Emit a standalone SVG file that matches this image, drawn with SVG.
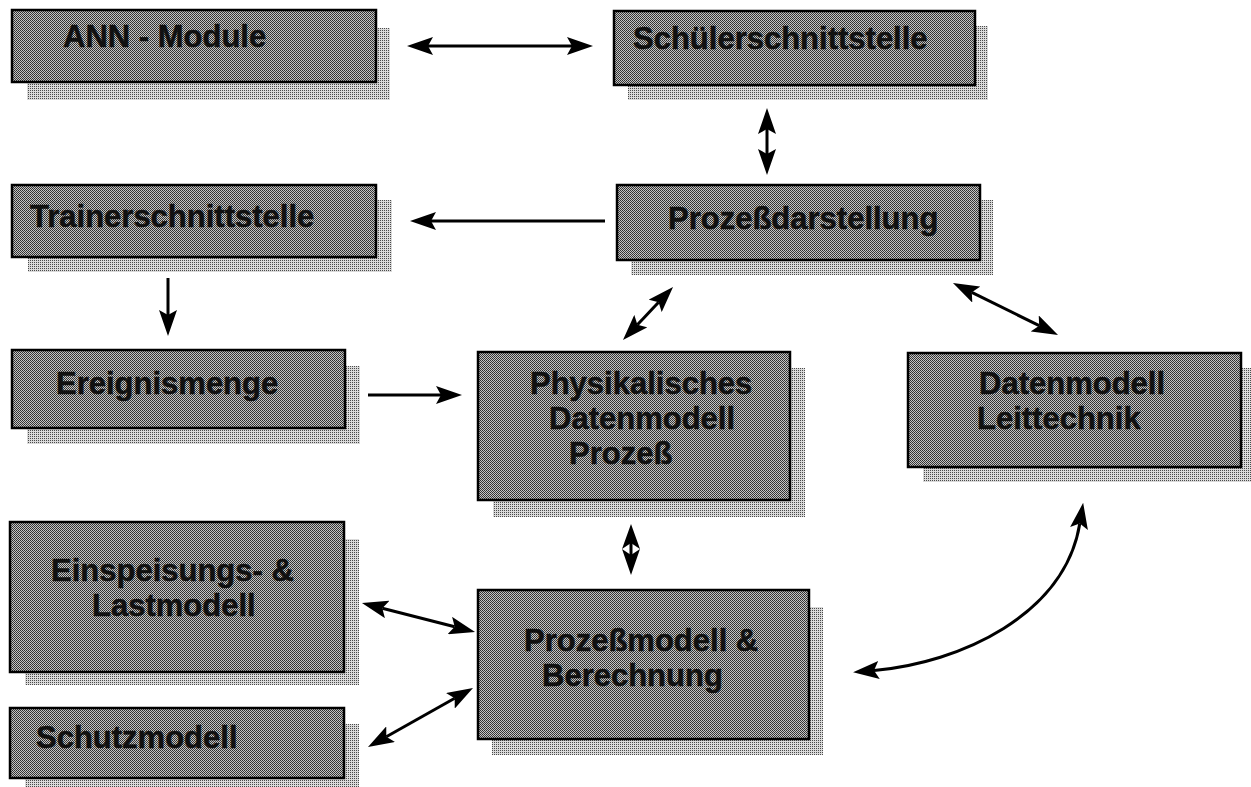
<svg xmlns="http://www.w3.org/2000/svg" width="1251" height="787" viewBox="0 0 1251 787">
  <defs>
    <!-- halftone fill of the boxes -->
    <pattern id="boxTone" width="2" height="2" patternUnits="userSpaceOnUse">
      <rect width="2" height="2" fill="#c4c4c4"/>
      <rect x="0" y="0" width="1" height="1" fill="#2e2e2e"/>
      <rect x="1" y="1" width="1" height="1" fill="#3c3c3c"/>
    </pattern>
    <!-- lighter stipple of the drop shadows -->
    <pattern id="shadowTone" width="2" height="2" patternUnits="userSpaceOnUse">
      <rect width="2" height="2" fill="#dadada"/>
      <rect x="0" y="0" width="1" height="1" fill="#4a4a4a"/>
    </pattern>
    <!-- barbed arrowhead, reference point at the notch -->
    <marker id="head" viewBox="0 0 26 18" refX="5" refY="9" markerWidth="26" markerHeight="18" markerUnits="userSpaceOnUse" orient="auto-start-reverse">
      <path d="M0,0 L26,9 L0,18 L5,9 Z" fill="#000"/>
    </marker>
    <style>
      .shadow { fill: url(#shadowTone); }
      .box { fill: url(#boxTone); stroke: #000; stroke-width: 2.5; }
      .label { font-family: "Liberation Sans", Arial, sans-serif; font-weight: bold; font-size: 31px; fill: #111; stroke: #111; stroke-width: 0.5; }
      .conn { fill: none; stroke: #000; stroke-width: 3; }
      .both { marker-start: url(#head); marker-end: url(#head); }
      .one { marker-end: url(#head); }
    </style>
  </defs>

  <rect width="1251" height="787" fill="#fff"/>

  <g id="ann-module">
    <rect class="shadow" x="27" y="28" width="363" height="72"/>
    <rect class="box" x="12" y="10" width="364" height="72"/>
    <text class="label" x="63" y="47">ANN - Module</text>
  </g>

  <g id="schuelerschnittstelle">
    <rect class="shadow" x="628" y="26" width="360" height="74"/>
    <rect class="box" x="614" y="11" width="361" height="74"/>
    <text class="label" x="633" y="49">Schülerschnittstelle</text>
  </g>

  <g id="trainerschnittstelle">
    <rect class="shadow" x="28" y="200" width="364" height="72"/>
    <rect class="box" x="12" y="185" width="364" height="72"/>
    <text class="label" x="30" y="227">Trainerschnittstelle</text>
  </g>

  <g id="prozessdarstellung">
    <rect class="shadow" x="631" y="200" width="362" height="75"/>
    <rect class="box" x="617" y="185" width="363" height="75"/>
    <text class="label" x="668" y="229">Prozeßdarstellung</text>
  </g>

  <g id="ereignismenge">
    <rect class="shadow" x="27" y="366" width="333" height="78"/>
    <rect class="box" x="12" y="350" width="333" height="78"/>
    <text class="label" x="56" y="394">Ereignismenge</text>
  </g>

  <g id="physikalisches-datenmodell">
    <rect class="shadow" x="493" y="368" width="312" height="149"/>
    <rect class="box" x="478" y="352" width="312" height="148"/>
    <text class="label" x="530" y="394">Physikalisches</text>
    <text class="label" x="549" y="429">Datenmodell</text>
    <text class="label" x="569" y="464">Prozeß</text>
  </g>

  <g id="datenmodell-leittechnik">
    <rect class="shadow" x="923" y="368" width="340" height="114"/>
    <rect class="box" x="908" y="353" width="333" height="114"/>
    <text class="label" x="979" y="394">Datenmodell</text>
    <text class="label" x="977" y="429">Leittechnik</text>
  </g>

  <g id="einspeisungs-lastmodell">
    <rect class="shadow" x="25" y="539" width="334" height="146"/>
    <rect class="box" x="10" y="522" width="334" height="150"/>
    <text class="label" x="51" y="581">Einspeisungs- &amp;</text>
    <text class="label" x="92" y="616">Lastmodell</text>
  </g>

  <g id="schutzmodell">
    <rect class="shadow" x="25" y="724" width="334" height="70"/>
    <rect class="box" x="10" y="708" width="334" height="70"/>
    <text class="label" x="36" y="748">Schutzmodell</text>
  </g>

  <g id="prozessmodell-berechnung">
    <rect class="shadow" x="492" y="607" width="331" height="148"/>
    <rect class="box" x="478" y="590" width="331" height="149"/>
    <text class="label" x="524" y="651">Prozeßmodell &amp;</text>
    <text class="label" x="542" y="686">Berechnung</text>
  </g>

  <g id="connectors">
    <!-- ANN-Module <-> Schülerschnittstelle -->
    <path class="conn both" d="M428,46 L572,46"/>
    <!-- Schülerschnittstelle <-> Prozeßdarstellung -->
    <path class="conn both" d="M767,129 L767,154"/>
    <!-- Prozeßdarstellung -> Trainerschnittstelle -->
    <path class="conn one" d="M605,221 L431,221"/>
    <!-- Trainerschnittstelle -> Ereignismenge -->
    <path class="conn one" d="M168,278 L168,315"/>
    <!-- Ereignismenge -> Physikalisches Datenmodell -->
    <path class="conn one" d="M368,395 L441,395"/>
    <!-- Prozeßdarstellung <-> Physikalisches Datenmodell -->
    <path class="conn both" d="M637.4,324.7 L658.6,302.3"/>
    <!-- Prozeßdarstellung <-> Datenmodell Leittechnik -->
    <path class="conn both" d="M971.8,292.3 L1039.2,325.7"/>
    <!-- Physikalisches Datenmodell <-> Prozeßmodell: short double head -->
    <path d="M631,524 L640,549 L631,543 L622,549 Z" fill="#000"/>
    <path d="M631,575 L640,549 L631,555 L622,549 Z" fill="#000"/>
    <path class="conn" d="M631,540 L631,558" stroke-width="2"/>
    <!-- Einspeisungs- & Lastmodell <-> Prozeßmodell -->
    <path class="conn both" d="M382.3,608.2 L454.7,626.8"/>
    <!-- Schutzmodell <-> Prozeßmodell -->
    <path class="conn both" d="M386.3,736.7 L454.7,698.3"/>
    <!-- Prozeßmodell <-> Datenmodell Leittechnik, curved -->
    <path class="conn both" d="M874,670.5 C960,663 1065,615 1079.8,523.6"/>
  </g>
</svg>
